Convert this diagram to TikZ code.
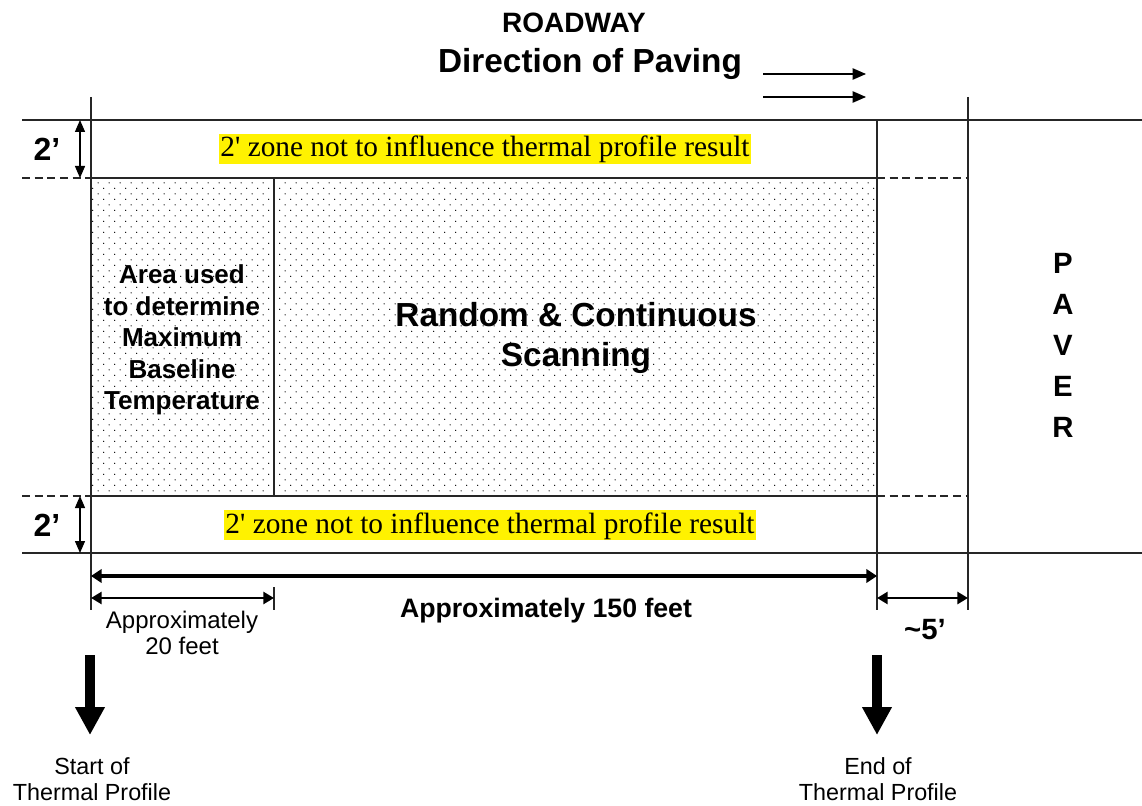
\documentclass[tikz,border=0pt]{standalone}
\usepackage{fontspec}
\newfontfamily\arial{Liberation Sans}
\newfontfamily\tnr{Liberation Serif}
\usetikzlibrary{arrows.meta,patterns}
\pgfdeclarepatternformonly{sparsedots}{\pgfqpoint{0pt}{0pt}}{\pgfqpoint{8.55pt}{8.55pt}}{\pgfqpoint{8.55pt}{8.55pt}}{%
  \pgfpathcircle{\pgfqpoint{2.14pt}{2.14pt}}{0.55pt}%
  \pgfpathcircle{\pgfqpoint{6.41pt}{6.41pt}}{0.55pt}%
  \pgfusepath{fill}}
\begin{document}
\begin{tikzpicture}[x=0.75pt,y=-0.75pt,
  thinline/.style={line width=1pt, draw=black!85},
  dashline/.style={thinline, dash pattern=on 6pt off 3.5pt},
  dimarrow/.style={line width=1pt, {Triangle[length=9pt,width=7.5pt]}-{Triangle[length=9pt,width=7.5pt]}},
  bigdim/.style={line width=3pt, {Triangle[length=8pt,width=10pt]}-{Triangle[length=8pt,width=10pt]}},
  middim/.style={line width=2pt, {Triangle[length=8pt,width=9pt]}-{Triangle[length=8pt,width=9pt]}},
  dirarrow/.style={line width=1pt, -{Triangle[length=10pt,width=8.5pt]}},
  bigdown/.style={line width=7.5pt, -{Triangle[length=21pt,width=21pt]}},
  hz/.style={fill=yellow, inner xsep=1pt, inner ysep=0pt, text height=17pt, text depth=5pt, font=\tnr\fontsize{22}{26}\selectfont},
  lbl/.style={inner sep=0pt, align=center},
]
\path[use as bounding box] (0,0) rectangle (1142,806);

% dotted area
\fill[pattern=sparsedots, pattern color=black] (91,178) rectangle (877,496);

% coordinates
\coordinate (tl) at (22,120);  \coordinate (tr) at (1142,120);
\coordinate (bl) at (22,553);  \coordinate (br) at (1142,553);
\coordinate (d1a) at (22,178); \coordinate (d1b) at (91,178); \coordinate (d1c) at (877,178); \coordinate (d1d) at (968,178);
\coordinate (d2a) at (22,496); \coordinate (d2b) at (91,496); \coordinate (d2c) at (877,496); \coordinate (d2d) at (968,496);
\coordinate (v1t) at (91,97);   \coordinate (v1b) at (91,610);
\coordinate (v2t) at (877,120); \coordinate (v2b) at (877,610);
\coordinate (v3t) at (968,97);  \coordinate (v3b) at (968,610);
\coordinate (divt) at (274,178); \coordinate (divb) at (274,496);
\coordinate (tickt) at (274,587); \coordinate (tickb) at (274,610);

% roadway lines
\draw[thinline] (tl) -- (tr);
\draw[thinline] (bl) -- (br);
\draw[dashline] (d1a) -- (d1b);
\draw[thinline] (d1b) -- (d1c);
\draw[dashline] (d1c) -- (d1d);
\draw[dashline] (d2a) -- (d2b);
\draw[thinline] (d2b) -- (d2c);
\draw[dashline] (d2c) -- (d2d);
\draw[thinline] (v1t) -- (v1b);
\draw[thinline] (v2t) -- (v2b);
\draw[thinline] (v3t) -- (v3b);
\draw[thinline] (divt) -- (divb);
\draw[thinline] (tickt) -- (tickb);

% 2' dimension arrows
\coordinate (a1t) at (80,120); \coordinate (a1b) at (80,178);
\coordinate (a2t) at (80,496); \coordinate (a2b) at (80,553);
\draw[dimarrow] (a1t) -- (a1b);
\draw[dimarrow] (a2t) -- (a2b);
\node[lbl, font=\arial\bfseries\fontsize{24}{28}\selectfont] (two1) at (47,149) {2’};
\node[lbl, font=\arial\bfseries\fontsize{24}{28}\selectfont] (two2) at (47,525) {2’};

% title texts
\node[lbl, anchor=base, font=\arial\bfseries\fontsize{21}{25}\selectfont] (road) at (574,33) {ROADWAY};
\node[lbl, anchor=base, font=\arial\bfseries\fontsize{25}{30}\selectfont] (dir) at (590,73) {Direction of Paving};
\coordinate (da1) at (763,74); \coordinate (da2) at (866,74);
\coordinate (db1) at (763,97); \coordinate (db2) at (866,97);
\draw[dirarrow] (da1) -- (da2);
\draw[dirarrow] (db1) -- (db2);

% zone texts
\node[hz] (ztop) at (485,149) {2' zone not to influence thermal profile result};
\node[hz] (zbot) at (490,525) {2' zone not to influence thermal profile result};

% area texts
\node[lbl, font=\arial\bfseries\fontsize{19.5}{23.6}\selectfont] (area) at (182,340) {Area used\\to determine\\Maximum\\Baseline\\Temperature};
\node[lbl, font=\arial\bfseries\fontsize{25}{30}\selectfont] (scan) at (576,338) {Random \& Continuous\\Scanning};
\node[lbl, font=\arial\bfseries\fontsize{22}{30.75}\selectfont] (paver) at (1063,345) {P\\A\\V\\E\\R};

% bottom dimensions
\coordinate (l150a) at (91,576); \coordinate (l150b) at (877,576);
\draw[bigdim] (l150a) -- (l150b);
\coordinate (l20a) at (91,598); \coordinate (l20b) at (274,598);
\draw[middim] (l20a) -- (l20b);
\coordinate (l5a) at (877,598); \coordinate (l5b) at (968,598);
\draw[middim] (l5a) -- (l5b);
\node[lbl, font=\arial\bfseries\fontsize{20}{24}\selectfont] (t150) at (546,611) {Approximately 150 feet};
\node[lbl, font=\arial\fontsize{18}{19}\selectfont] (t20) at (182,633) {Approximately\\20 feet};
\node[lbl, font=\arial\bfseries\fontsize{22}{26}\selectfont] (t5) at (925,630) {\textasciitilde5’};

% start / end arrows
\coordinate (sa1) at (90,655); \coordinate (sa2) at (90,735);
\coordinate (ea1) at (877,655); \coordinate (ea2) at (877,735);
\draw[bigdown] (sa1) -- (sa2);
\draw[bigdown] (ea1) -- (ea2);
\node[lbl, font=\arial\fontsize{17.5}{20}\selectfont] (start) at (92,779) {Start of\\Thermal Profile};
\node[lbl, font=\arial\fontsize{17.5}{20}\selectfont] (end) at (878,779) {End of\\Thermal Profile};
\end{tikzpicture}
\end{document}
